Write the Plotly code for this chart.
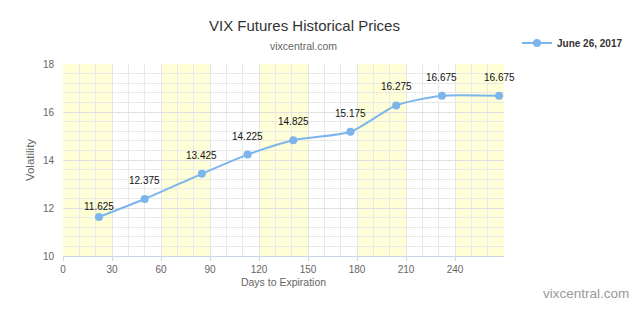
import plotly.graph_objects as go

days = [22, 50, 85, 113, 141, 176, 204, 232, 267]
prices = [11.625, 12.375, 13.425, 14.225, 14.825, 15.175, 16.275, 16.675, 16.675]
labels = ["11.625", "12.375", "13.425", "14.225", "14.825", "15.175", "16.275", "16.675", "16.675"]
label_lift = [11, 18.5, 18.5, 18.5, 18.5, 18.5, 18.5, 18.5, 18.5]
series_name = "June 26, 2017"
x_ticks = [0, 30, 60, 90, 120, 150, 180, 210, 240]
band_starts = [0, 60, 120, 180, 240]
band_width = 30

W, H = 640, 320
L, R, T, B = 63, 136, 64, 64
PW = W - L - R
PH = H - T - B

def px(x):
    return (x - L) / PW

def py(y):
    return (H - B - y) / PH

FONT = "Liberation Sans"
fig = go.Figure()
fig.add_trace(go.Scatter(
    x=days, y=prices, name=series_name,
    mode="lines+markers",
    line=dict(color="#7cb5ec", width=2, shape="spline", smoothing=0.65),
    marker=dict(color="#7cb5ec", size=8),
    cliponaxis=False,
))

for xd, yd, t, lift in zip(days, prices, labels, label_lift):
    fig.add_annotation(x=xd, y=yd, xref="x", yref="y", text=t, showarrow=False,
                       yshift=lift, font=dict(family=FONT, size=10, color="#111"))

for s in band_starts:
    fig.add_shape(type="rect", xref="x", yref="y", x0=s, x1=s + band_width, y0=10, y1=18,
                  fillcolor="rgb(255,255,215)", line_width=0, layer="below")

fig.update_layout(
    width=W, height=H,
    margin=dict(l=L, r=R, t=T, b=B, autoexpand=False),
    paper_bgcolor="white", plot_bgcolor="rgba(0,0,0,0)",
    font=dict(family=FONT, color="#666"),
    showlegend=True,
    legend=dict(x=px(517), y=py(43), xanchor="left", yanchor="middle",
                font=dict(family=FONT, size=10, color="#333", weight="bold"),
                itemwidth=30, bgcolor="rgba(0,0,0,0)"),
    xaxis=dict(range=[0, 270], tickvals=x_ticks, showgrid=True, gridcolor="#e6e6e6",
               zeroline=False, showline=True, linecolor="#ccd6eb", linewidth=1,
               ticks="outside", ticklen=4, tickcolor="#ccd6eb",
               tickfont=dict(family=FONT, size=10, color="#666"),
               minor=dict(dtick=10, showgrid=True, gridcolor="#e9e9e9"),
               title=dict(text="Days to Expiration", font=dict(family=FONT, size=10.5, color="#666"), standoff=4)),
    yaxis=dict(range=[10, 18], dtick=2, showgrid=True, gridcolor="#e0e0e0",
               zeroline=False, showline=False, ticks="", ticklabelstandoff=8,
               tickfont=dict(family=FONT, size=10, color="#666"),
               minor=dict(dtick=0.4, showgrid=True, gridcolor="#e9e9e9"),
               title=dict(text="Volatility", font=dict(family=FONT, size=11.5, color="#666"), standoff=5)),
)

fig.add_annotation(text="VIX Futures Historical Prices", xref="paper", yref="paper",
                   x=px(304), y=py(15), showarrow=False,
                   font=dict(family=FONT, size=15, color="#333"))
fig.add_annotation(text="vixcentral.com", xref="paper", yref="paper",
                   x=px(303), y=py(38), showarrow=False,
                   font=dict(family=FONT, size=10.5, color="#666"))
fig.add_annotation(text="vixcentral.com", xref="paper", yref="paper",
                   x=px(631), y=py(303), xanchor="right", showarrow=False,
                   font=dict(family=FONT, size=13.5, color="#999"))

fig.write_html("out.html")
